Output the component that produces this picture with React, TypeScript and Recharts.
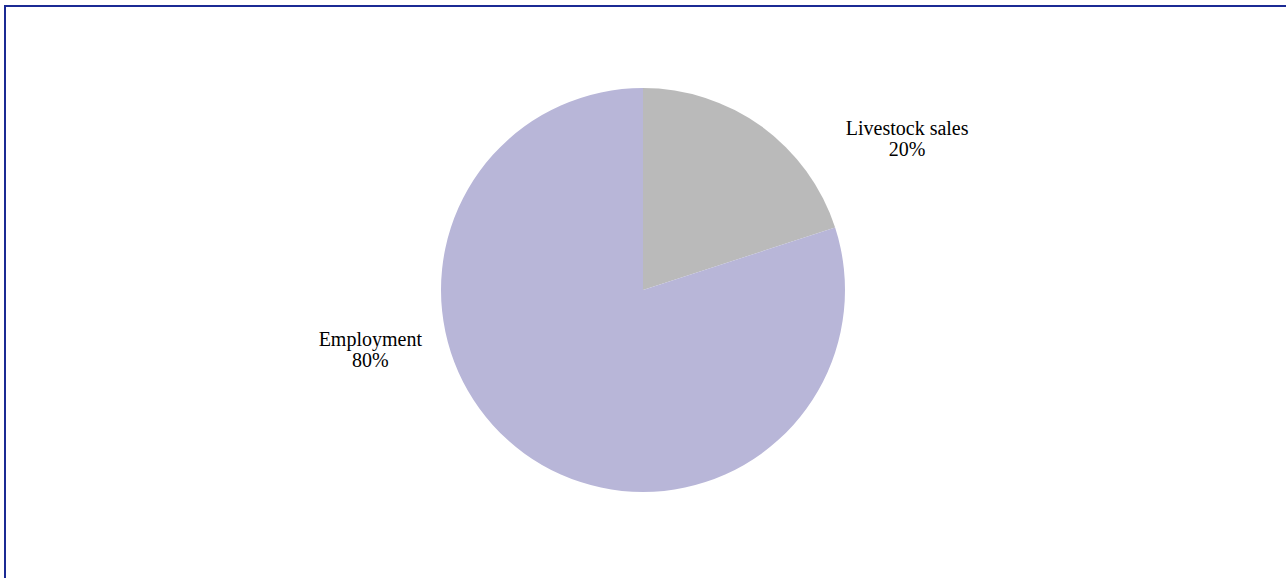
import React from 'react';
import { PieChart, Pie, Cell } from 'recharts';

// --- Data ---
const categories = ['Livestock sales', 'Employment'];
const shares = [20, 80];
const sliceColors = ['#BABABA', '#B8B6D8'];

const data = categories.map((name, i) => ({ name, value: shares[i] }));

// label placement (Excel-style "best fit"): angle in degrees, distance in radii
const LABEL_PLACE = [
  { angle: 30, dist: 1.51 },
  { angle: 192, dist: 1.38 },
];

const RADIAN = Math.PI / 180;

const renderLabel = (props: any) => {
  const { cx, cy, outerRadius, index, name, percent } = props;
  const place = LABEL_PLACE[index];
  const r = outerRadius * place.dist;
  const x = cx + r * Math.cos(place.angle * RADIAN);
  const y = cy - r * Math.sin(place.angle * RADIAN);
  return (
    <text
      x={x}
      y={y}
      textAnchor="middle"
      fill="#000"
      fontFamily="'Liberation Serif', 'Times New Roman', serif"
      fontSize={20}
    >
      <tspan x={x} dy={-2}>{name}</tspan>
      <tspan x={x} dy={21}>{`${Math.round(percent * 100)}%`}</tspan>
    </text>
  );
};

export default function App() {
  return (
    <div
      style={{
        position: 'fixed',
        left: 0,
        top: 0,
        width: 1286,
        height: 578,
        overflow: 'hidden',
        background: '#fff',
      }}
    >
      <div
        style={{
          position: 'absolute',
          left: 4,
          top: 5,
          width: 1300,
          height: 620,
          border: '2px solid #1B2A94',
          boxSizing: 'border-box',
        }}
      />
      <div style={{ position: 'absolute', left: 0, top: 0 }}>
        <PieChart width={1286} height={578} margin={{ top: 0, right: 0, bottom: 0, left: 0 }}>
          <Pie
            data={data}
            dataKey="value"
            nameKey="name"
            cx={643}
            cy={290}
            outerRadius={202}
            startAngle={90}
            endAngle={-270}
            stroke="none"
            labelLine={false}
            label={renderLabel}
            isAnimationActive={false}
          >
            {data.map((entry, index) => (
              <Cell key={`cell-${index}`} fill={sliceColors[index]} />
            ))}
          </Pie>
        </PieChart>
      </div>
    </div>
  );
}
